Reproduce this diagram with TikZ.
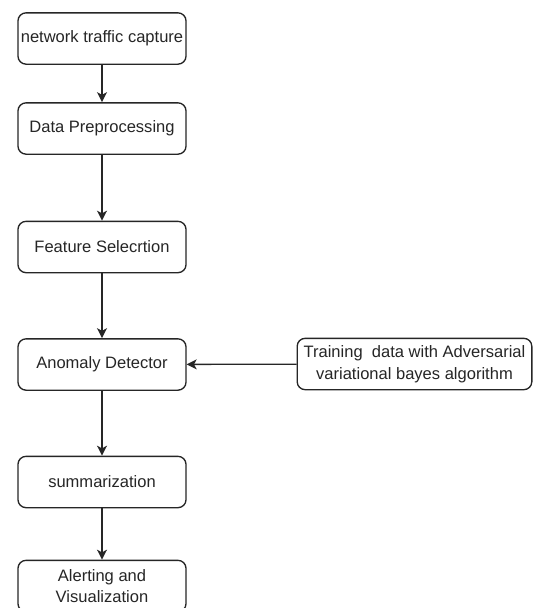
\documentclass[tikz,border=0pt]{standalone}
\usepackage{fontspec}
\setmainfont{Liberation Sans}
\usetikzlibrary{arrows.meta}
\begin{document}
\begin{tikzpicture}[x=0.75pt,y=-0.75pt,
  stepbox/.style={draw=black!85,line width=1pt,rounded corners=6pt,fill=white,
    minimum width=126pt,minimum height=38.5pt,inner sep=0pt,align=center,
    font=\fontsize{12.4}{16.3}\selectfont,text=black!85},
  flow/.style={draw=black!85,line width=1pt,-{Stealth[length=7.5pt,width=7.5pt,inset=2pt]}}]
\useasboundingbox (0,0) rectangle (539,608);
\node[stepbox] (cap) at (102,38.5) {network traffic capture};
\node[stepbox] (pre) at (102,128.5) {Data Preprocessing};
\node[stepbox] (fs) at (102,247) {Feature Selecrtion};
\node[stepbox] (ad) at (102,364.5) {Anomaly Detector};
\node[stepbox] (sum) at (102,482) {summarization};
\node[stepbox] (al) at (102,586) {Alerting and\\Visualization};
\node[stepbox,minimum width=176pt] (tr) at (414.5,364) {Training\ \ data with Adversarial\\variational bayes algorithm};
\draw[flow] (cap) -- (pre);
\draw[flow] (pre) -- (fs);
\draw[flow] (fs) -- (ad);
\draw[flow] (ad) -- (sum);
\draw[flow] (sum) -- (al);
\draw[flow] (tr) -- (ad);
\end{tikzpicture}
\end{document}
